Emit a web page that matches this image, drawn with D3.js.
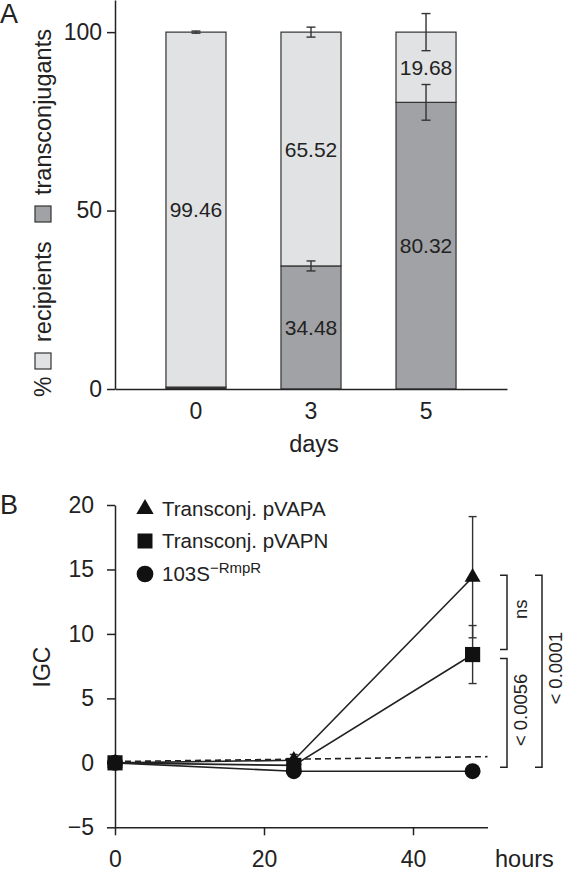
<!DOCTYPE html>
<html>
<head>
<meta charset="utf-8">
<script src="https://cdn.jsdelivr.net/npm/d3@7"></script>
<style>
  html, body { margin: 0; padding: 0; background: #fff; }
  svg { display: block; font-family: "Liberation Sans", Arial, sans-serif; }
</style>
</head>
<body>
<svg id="chart" width="566" height="874"></svg>
<script>
// ---------- Panel A data ----------
const days = ["0", "3", "5"];
const transconjugants = [0.54, 34.48, 80.32];
const recipients = [99.46, 65.52, 19.68];
const transErr = [0, 1.4, 5.0];
const recipErr = [0.3, 1.4, 5.2];
const yTicksA = [0, 50, 100];

// ---------- Panel B data ----------
const hours = [0, 24, 48];
const pVAPA = [0, 0.2, 14.4];
const pVAPAErr = [0, 0.45, 4.7];
const pVAPN = [0, -0.2, 8.4];
const pVAPNErr = [0, 0.3, 2.25];
const rmpR = [0, -0.65, -0.65];
const rmpRErr = [0, 0, 0];
const refHours = [0, 50];
const refIGC = [0.1, 0.48];
const yTicksB = [-5, 0, 5, 10, 15, 20];
const xTicksB = [0, 20, 40];
const brackets = [
  { label: "ns", top: 14.55, bottom: 8.8, col: 0 },
  { label: "< 0.0056", top: 8.1, bottom: -0.35, col: 0 },
  { label: "< 0.0001", top: 14.55, bottom: -0.35, col: 1 }
];

const INK = "#222";
const LIGHT = "#e1e2e4";
const DARK = "#a1a2a5";
const FONT = '"Liberation Sans", Arial, sans-serif';
const svg = d3.select("#chart");

function styleAxis(ax, size) {
  ax.attr("font-family", FONT).attr("font-size", size);
  ax.selectAll("text").attr("font-size", size).attr("fill", INK);
  ax.selectAll("line,path").attr("stroke", INK).attr("stroke-width", 1.5);
}

// ================= Panel A =================
const yA = d3.scaleLinear().domain([0, 109]).range([389, 0]);
const xA = d3.scaleBand().domain(days).range([115, 507]).paddingInner(0.478).paddingOuter(0.443);

const gA = svg.append("g");

// bars
days.forEach((d, i) => {
  const x0 = xA(d), w = xA.bandwidth();
  gA.append("rect")
    .attr("x", x0).attr("width", w)
    .attr("y", yA(transconjugants[i])).attr("height", yA(0) - yA(transconjugants[i]))
    .attr("fill", i === 0 ? "#333" : DARK).attr("stroke", "#333").attr("stroke-width", 1.2);
  gA.append("rect")
    .attr("x", x0).attr("width", w)
    .attr("y", yA(transconjugants[i] + recipients[i])).attr("height", yA(transconjugants[i]) - yA(transconjugants[i] + recipients[i]))
    .attr("fill", LIGHT).attr("stroke", "#333").attr("stroke-width", 1.2);
});

// error bars
function errBar(g, cx, yScale, v, e, capW) {
  if (e <= 0) return;
  g.append("line").attr("x1", cx).attr("x2", cx).attr("y1", yScale(v - e)).attr("y2", yScale(v + e))
    .attr("stroke", "#333").attr("stroke-width", 1.4);
  [v - e, v + e].forEach(vv => {
    g.append("line").attr("x1", cx - capW / 2).attr("x2", cx + capW / 2).attr("y1", yScale(vv)).attr("y2", yScale(vv))
      .attr("stroke", "#333").attr("stroke-width", 1.4);
  });
}
days.forEach((d, i) => {
  const cx = xA(d) + xA.bandwidth() / 2;
  errBar(gA, cx, yA, transconjugants[i], transErr[i], 9);
  errBar(gA, cx, yA, transconjugants[i] + recipients[i], recipErr[i], 9);
});

// bar value labels
days.forEach((d, i) => {
  const cx = xA(d) + xA.bandwidth() / 2;
  const segs = [[0, transconjugants[i]], [transconjugants[i], transconjugants[i] + recipients[i]]];
  segs.forEach(([a, b]) => {
    if (b - a < 5) return;
    gA.append("text").attr("x", cx).attr("y", (yA(a) + yA(b)) / 2).attr("dy", "0.36em")
      .attr("text-anchor", "middle").attr("font-size", 21).attr("fill", INK)
      .text((b - a).toFixed(2));
  });
});

// axes A
const axA = gA.append("g").attr("transform", `translate(${xA.range()[0]},0)`)
  .call(d3.axisLeft(yA).tickValues(yTicksA).tickSize(8).tickSizeOuter(0).tickPadding(5));
styleAxis(axA, 23);

const axAx = gA.append("g").attr("transform", `translate(0,${yA(0)})`)
  .call(d3.axisBottom(xA).tickSize(0).tickSizeOuter(0).tickPadding(14));
styleAxis(axAx, 23);

gA.append("text").attr("x", 314).attr("y", 452).attr("text-anchor", "middle")
  .attr("font-size", 23.5).attr("fill", INK).text("days");

// y label A with legend squares
function rotText(g, x, y, txt, size) {
  return g.append("text").attr("transform", `translate(${x},${y}) rotate(-90)`)
    .attr("font-size", size).attr("fill", INK).text(txt);
}
rotText(gA, 51, 397, "%", 23);
gA.append("rect").attr("x", 35).attr("y", 353).attr("width", 16).attr("height", 16)
  .attr("fill", LIGHT).attr("stroke", "#333").attr("stroke-width", 1.2);
rotText(gA, 51, 342, "recipients", 23.5);
gA.append("rect").attr("x", 35).attr("y", 206).attr("width", 16).attr("height", 16)
  .attr("fill", DARK).attr("stroke", "#333").attr("stroke-width", 1.2);
rotText(gA, 51, 195, "transconjugants", 23.5);

svg.append("text").attr("x", 0).attr("y", 23).attr("font-size", 27).attr("fill", INK).text("A");

// ================= Panel B =================
const xB = d3.scaleLinear().domain([0, 50]).range([115, 487.5]);
const yB = d3.scaleLinear().domain([-5, 20]).range([827.3, 505]);
const gB = svg.append("g");

const axBy = gB.append("g").attr("transform", `translate(${xB(0)},0)`)
  .call(d3.axisLeft(yB).tickValues(yTicksB).tickSize(8).tickSizeOuter(0).tickPadding(13).tickFormat(d3.format("d")));
styleAxis(axBy, 23);

const axBx = gB.append("g").attr("transform", `translate(0,${yB(-5)})`)
  .call(d3.axisBottom(xB).tickValues(xTicksB).tickSize(8).tickSizeOuter(0).tickPadding(15.5));
styleAxis(axBx, 23);

gB.append("text").attr("x", 495).attr("y", 867).attr("font-size", 23.5).attr("fill", INK).text("hours");
gB.append("text").attr("transform", `translate(50,667) rotate(-90)`).attr("text-anchor", "middle")
  .attr("font-size", 23).attr("fill", INK).text("IGC");
svg.append("text").attr("x", 0).attr("y", 514).attr("font-size", 27).attr("fill", INK).text("B");

// reference dashed line
gB.append("path")
  .attr("d", d3.line().x(d => xB(d[0])).y(d => yB(d[1]))(d3.zip(refHours, refIGC)))
  .attr("fill", "none").attr("stroke", INK).attr("stroke-width", 1.6).attr("stroke-dasharray", "6,4");

const series = [
  { name: "rmpR", vals: rmpR, err: rmpRErr, sym: d3.symbolCircle, size: 200 },
  { name: "pVAPA", vals: pVAPA, err: pVAPAErr, sym: d3.symbolTriangle, size: 110 },
  { name: "pVAPN", vals: pVAPN, err: pVAPNErr, sym: d3.symbolSquare, size: 230 }
];
const lineB = d3.line().x(d => xB(d[0])).y(d => yB(d[1]));
series.forEach(s => {
  gB.append("path").attr("d", lineB(d3.zip(hours, s.vals)))
    .attr("fill", "none").attr("stroke", INK).attr("stroke-width", 1.6);
});
series.forEach(s => {
  hours.forEach((h, i) => errBar(gB, xB(h), yB, s.vals[i], s.err[i], 8));
});
series.forEach(s => {
  hours.forEach((h, i) => {
    gB.append("path").attr("d", d3.symbol(s.sym, s.size)())
      .attr("transform", `translate(${xB(h)},${yB(s.vals[i])})`).attr("fill", "#111");
  });
});

// brackets
const colX = [507, 542];
brackets.forEach(b => {
  const x = colX[b.col];
  gB.append("path")
    .attr("d", `M${x - 7},${yB(b.top)}H${x}V${yB(b.bottom)}H${x - 7}`)
    .attr("fill", "none").attr("stroke", INK).attr("stroke-width", 1.5);
  const my = (yB(b.top) + yB(b.bottom)) / 2 - 3;
  gB.append("text").attr("transform", `translate(${x + 14},${my}) rotate(-90)`)
    .attr("text-anchor", "middle").attr("dy", "0.3em")
    .attr("font-size", 18.5).attr("fill", INK).text(b.label);
});

// legend
const legend = [
  { sym: d3.symbolTriangle, size: 130, label: "Transconj. pVAPA", y: 509 },
  { sym: d3.symbolSquare, size: 225, label: "Transconj. pVAPN", y: 541 },
  { sym: d3.symbolCircle, size: 220, label: "103S", sup: "\u2212RmpR", y: 574 }
];
legend.forEach(l => {
  gB.append("path").attr("d", d3.symbol(l.sym, l.size)())
    .attr("transform", `translate(145,${l.y})`).attr("fill", "#111");
  const t = gB.append("text").attr("x", 162).attr("y", l.y + 7).attr("font-size", 20.5).attr("fill", INK).text(l.label);
  if (l.sup) t.append("tspan").attr("dy", -8).attr("font-size", 15).text(l.sup);
});
</script>
</body>
</html>
